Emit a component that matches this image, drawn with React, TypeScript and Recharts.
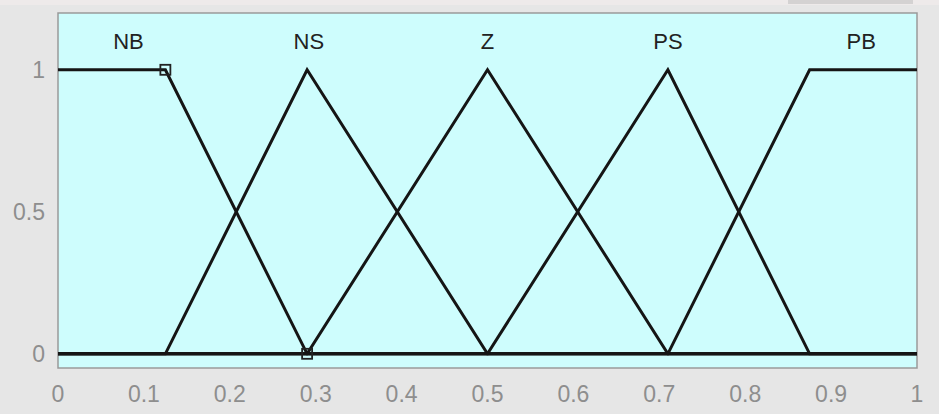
import React from 'react';
import {
  ComposedChart,
  Line,
  XAxis,
  YAxis,
  Scatter,
  ReferenceArea,
  ReferenceDot,
  CartesianGrid,
} from 'recharts';

// Axis ticks
const xTicks = [0, 0.1, 0.2, 0.3, 0.4, 0.5, 0.6, 0.7, 0.8, 0.9, 1];
const yTicks = [0, 0.5, 1];

// Membership functions (break points over the universe [0, 1])
const mfNames = ['NB', 'NS', 'Z', 'PS', 'PB'];
const nbX = [0, 0.125, 0.29, 1];
const nbY = [1, 1, 0, 0];
const nsX = [0, 0.125, 0.29, 0.5, 1];
const nsY = [0, 0, 1, 0, 0];
const zX = [0, 0.29, 0.5, 0.71, 1];
const zY = [0, 0, 1, 0, 0];
const psX = [0, 0.5, 0.71, 0.875, 1];
const psY = [0, 0, 1, 0, 0];
const pbX = [0, 0.71, 0.875, 1];
const pbY = [0, 0, 1, 1];

// Name label anchors
const labelX = [0.082, 0.292, 0.5, 0.71, 0.935];
const labelY = 1.1;

// Selected-function handles
const markerX = [0.125, 0.29];
const markerY = [1, 0];

const toPoints = (xs: number[], ys: number[]) => xs.map((x, i) => ({ x, y: ys[i] }));

const series = [
  toPoints(nbX, nbY),
  toPoints(nsX, nsY),
  toPoints(zX, zY),
  toPoints(psX, psY),
  toPoints(pbX, pbY),
];
const markers = toPoints(markerX, markerY);

const X_DOMAIN: [number, number] = [0, 1];
const Y_DOMAIN: [number, number] = [-0.05, 1.2];

const FONT = '"Liberation Sans", Arial, sans-serif';
const LINE = '#151515';
const TICK_TEXT = '#8e8e8e';
const BORDER = '#9a9a9a';

const Empty = () => <g />;

const SquareHandle = (props: any) => {
  const { cx, cy } = props;
  if (cx == null || cy == null) return <g />;
  return (
    <rect
      x={cx - 5}
      y={cy - 5}
      width={10}
      height={10}
      fill="none"
      stroke="#222"
      strokeWidth={1.8}
    />
  );
};

export default function App() {
  return (
    <div
      style={{
        position: 'absolute',
        left: 0,
        top: 0,
        width: 939,
        height: 414,
        background: '#e6e6e6',
        fontFamily: FONT,
      }}
    >
      {/* window chrome strip along the top edge */}
      <div style={{ position: 'absolute', left: 0, top: 0, width: 939, height: 5, background: '#eeeaea' }} />
      <div style={{ position: 'absolute', left: 788, top: 0, width: 125, height: 4, background: '#d4d2d2' }} />
      <div style={{ position: 'absolute', left: 0, top: 0 }}>
        <ComposedChart
          width={939}
          height={414}
          margin={{ top: 13, right: 22, bottom: 0, left: 0 }}
        >
          <CartesianGrid horizontal={false} vertical={false} fill="#cefdfd" />
          <XAxis
            type="number"
            dataKey="x"
            domain={X_DOMAIN}
            ticks={xTicks}
            allowDuplicatedCategory={false}
            height={46}
            tickLine={false}
            axisLine={false}
            tickSize={0}
            tickMargin={18}
            tick={{ fill: TICK_TEXT, fontSize: 23, fontFamily: FONT }}
          />
          <XAxis
            xAxisId="bottomInner"
            type="number"
            dataKey="x"
            domain={X_DOMAIN}
            ticks={xTicks}
            orientation="bottom"
            mirror
            axisLine={false}
            tickSize={5}
            tickLine={{ stroke: BORDER }}
            tick={Empty}
          />
          <XAxis
            xAxisId="topInner"
            type="number"
            dataKey="x"
            domain={X_DOMAIN}
            ticks={xTicks}
            orientation="top"
            mirror
            axisLine={false}
            tickSize={5}
            tickLine={{ stroke: BORDER }}
            tick={Empty}
          />
          <YAxis
            type="number"
            dataKey="y"
            domain={Y_DOMAIN}
            ticks={yTicks}
            width={58}
            tickLine={false}
            axisLine={false}
            tickSize={0}
            tickMargin={13}
            tick={{ fill: TICK_TEXT, fontSize: 23, fontFamily: FONT }}
          />
          <YAxis
            yAxisId="leftInner"
            type="number"
            dataKey="y"
            domain={Y_DOMAIN}
            ticks={yTicks}
            orientation="left"
            mirror
            axisLine={false}
            tickSize={5}
            tickLine={{ stroke: BORDER }}
            tick={Empty}
          />
          <YAxis
            yAxisId="rightInner"
            type="number"
            dataKey="y"
            domain={Y_DOMAIN}
            ticks={yTicks}
            orientation="right"
            mirror
            axisLine={false}
            tickSize={5}
            tickLine={{ stroke: BORDER }}
            tick={Empty}
          />
          {series.map((pts, i) => (
            <Line
              key={mfNames[i]}
              data={pts}
              dataKey="y"
              type="linear"
              stroke={LINE}
              strokeWidth={3}
              dot={false}
              activeDot={false}
              isAnimationActive={false}
            />
          ))}
          <Scatter data={markers} dataKey="y" shape={SquareHandle} isAnimationActive={false} />
          {mfNames.map((name, i) => (
            <ReferenceDot
              key={`lbl-${name}`}
              x={labelX[i]}
              y={labelY}
              r={1}
              fill="none"
              stroke="none"
              label={{
                value: name,
                position: 'center',
                fill: '#222',
                fontSize: 22,
                fontFamily: FONT,
              }}
            />
          ))}
          <ReferenceArea
            x1={X_DOMAIN[0]}
            x2={X_DOMAIN[1]}
            y1={Y_DOMAIN[0]}
            y2={Y_DOMAIN[1]}
            fill="none"
            stroke={BORDER}
            strokeWidth={1.5}
          />
        </ComposedChart>
      </div>
    </div>
  );
}
